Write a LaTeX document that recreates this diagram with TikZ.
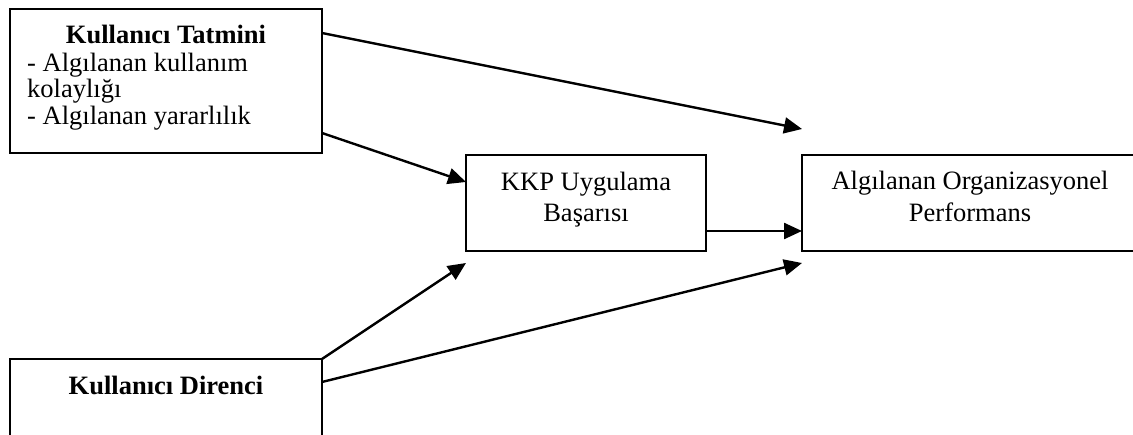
\documentclass[tikz,border=0pt]{standalone}
\usepackage{fontspec}
\setmainfont{Liberation Serif}
\usetikzlibrary{arrows.meta,calc}
\begin{document}
\begin{tikzpicture}[x=1pt,y=-1pt,
  box/.style={draw,line width=1.8pt,anchor=north west,inner sep=0pt,outer sep=0pt},
  txt/.style={font=\fontsize{26.5}{30.5}\selectfont,inner sep=0pt,anchor=base},
  btxt/.style={txt,font=\fontsize{26.5}{30.5}\selectfont\bfseries},
  conn/.style={line width=2.4pt,-{Triangle[length=18pt,width=16pt]}}]
\clip (0,0) rectangle (1133,435);
\fill[white] (0,0) rectangle (1133,435);
% boxes
\node[box,minimum width=312pt,minimum height=144pt] (t) at (10,9) {};
\node[box,minimum width=240pt,minimum height=96pt] (k) at (466,155) {};
\node[box,minimum width=336pt,minimum height=96pt] (o) at (802,155) {};
\node[box,minimum width=312pt,minimum height=130pt] (d) at (10,359) {};
% texts
\node[btxt] (t1) at (166,44) {Kullanıcı Tatmini};
\node[txt,anchor=base west] (t2) at (27,71.5) {- Algılanan kullanım};
\node[txt,anchor=base west] (t3) at (27,98) {kolaylığı};
\node[txt,anchor=base west] (t4) at (27,125) {- Algılanan yararlılık};
\node[txt] (k1) at (586,191) {KKP Uygulama};
\node[txt] (k2) at (586,222) {Başarısı};
\node[txt] (o1) at (970,190) {Algılanan Organizasyonel};
\node[txt] (o2) at (970,222) {Performans};
\node[btxt] (d1) at (166,395) {Kullanıcı Direnci};
% connector ends
\coordinate (a1s) at ($(t.north east)+(0,24)$);
\coordinate (a1e) at ($(o.north west)+(0,-26)$);
\coordinate (a2s) at ($(t.north east)+(0,124)$);
\coordinate (a2e) at ($(k.north west)+(0,27)$);
\coordinate (a3s) at ($(k.north east)+(0,76)$);
\coordinate (a4e) at ($(k.south west)+(0,12)$);
\coordinate (a5s) at ($(d.north east)+(0,23)$);
\coordinate (a5e) at ($(o.south west)+(0,12)$);
% connectors
\draw[conn] (a1s) -- (a1e);
\draw[conn] (a2s) -- (a2e);
\draw[conn] (a3s) -- (a3s -| o.west);
\draw[conn] (d.north east) -- (a4e);
\draw[conn] (a5s) -- (a5e);
\end{tikzpicture}
\end{document}
